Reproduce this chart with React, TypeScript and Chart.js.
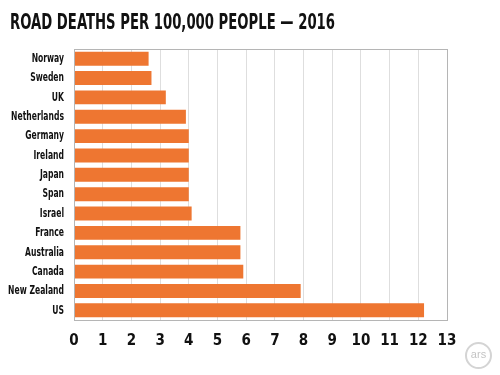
import React, { useEffect, useRef } from "react";
import { Chart, registerables } from "chart.js";

Chart.register(...registerables);

const countries = ["Norway", "Sweden", "UK", "Netherlands", "Germany", "Ireland", "Japan", "Span", "Israel", "France", "Australia", "Canada", "New Zealand", "US"];
const deaths = [2.6, 2.7, 3.2, 3.9, 4.0, 4.0, 4.0, 4.0, 4.1, 5.8, 5.8, 5.9, 7.9, 12.2];
const xTicks = [0, 1, 2, 3, 4, 5, 6, 7, 8, 9, 10, 11, 12, 13];
const titleText = "ROAD DEATHS PER 100,000 PEOPLE — 2016";

const FONT = "'DejaVu Sans Condensed', 'DejaVu Sans', sans-serif";

// draws the plot box, the title and the category labels in a narrow (horizontally squeezed) style
const textPlugin = {
  id: "narrowText",
  afterDraw(chart: any) {
    const { ctx, chartArea } = chart;
    ctx.save();
    ctx.strokeStyle = "#b5b5b5";
    ctx.lineWidth = 1;
    ctx.strokeRect(chartArea.left + 0.5, chartArea.top + 0.5, chartArea.right - chartArea.left, chartArea.bottom - chartArea.top);
    ctx.restore();

    // title
    ctx.save();
    ctx.fillStyle = "#111";
    ctx.font = `bold 22px ${FONT}`;
    ctx.textBaseline = "alphabetic";
    ctx.textAlign = "left";
    const tw = ctx.measureText(titleText).width;
    const sx = 325 / tw;
    ctx.translate(10, 29);
    ctx.scale(sx, 1);
    ctx.fillText(titleText, 0, 0);
    ctx.restore();

    // category labels
    const yScale = chart.scales.y;
    ctx.save();
    ctx.fillStyle = "#111";
    ctx.font = `bold 12.5px ${FONT}`;
    ctx.textAlign = "right";
    ctx.textBaseline = "middle";
    countries.forEach((label, i) => {
      const y = yScale.getPixelForTick(i);
      ctx.save();
      ctx.translate(chartArea.left - 10, y);
      ctx.scale(0.68, 1);
      ctx.fillText(label, 0, 0);
      ctx.restore();
    });
    ctx.restore();
  },
};

export default function App() {
  const ref = useRef<HTMLCanvasElement>(null);
  useEffect(() => {
    const chart = new Chart(ref.current as HTMLCanvasElement, {
      type: "bar",
      data: {
        labels: countries,
        datasets: [
          {
            data: deaths,
            backgroundColor: "#ee7631",
            barPercentage: 0.72,
            categoryPercentage: 1,
          },
        ],
      },
      options: {
        indexAxis: "y",
        animation: false,
        responsive: false,
        layout: { padding: { left: 0, right: 53, top: 49, bottom: 0 } },
        plugins: {
          legend: { display: false },
          tooltip: { enabled: false },
          title: { display: false },
        },
        scales: {
          x: {
            min: 0,
            max: 13,
            afterBuildTicks(axis: any) {
              axis.ticks = xTicks.map((v) => ({ value: v }));
            },
            afterFit(axis: any) {
              axis.height = 55;
            },
            grid: { color: "#dedede", drawTicks: false },
            border: { display: false },
            ticks: {
              color: "#111",
              padding: 12,
              font: { family: FONT, size: 15, weight: "bold" },
            },
          },
          y: {
            afterFit(axis: any) {
              axis.width = 74;
            },
            grid: { display: false, drawTicks: false },
            border: { display: false },
            ticks: { display: false },
          },
        },
      },
      plugins: [textPlugin],
    });
    return () => chart.destroy();
  }, []);
  return (
    <div style={{ position: "fixed", left: 0, top: 0, width: 500, height: 375, background: "#fff" }}>
      <canvas ref={ref} width={500} height={375} />
      <div
        style={{
          position: "absolute",
          left: 465,
          top: 342,
          width: 23,
          height: 23,
          borderRadius: "50%",
          border: "2px solid #d4d4d4",
          color: "#c4c4c4",
          fontFamily: "'Liberation Sans', sans-serif",
          fontSize: 11,
          lineHeight: "21px",
          textAlign: "center",
        }}
      >
        ars
      </div>
    </div>
  );
}
